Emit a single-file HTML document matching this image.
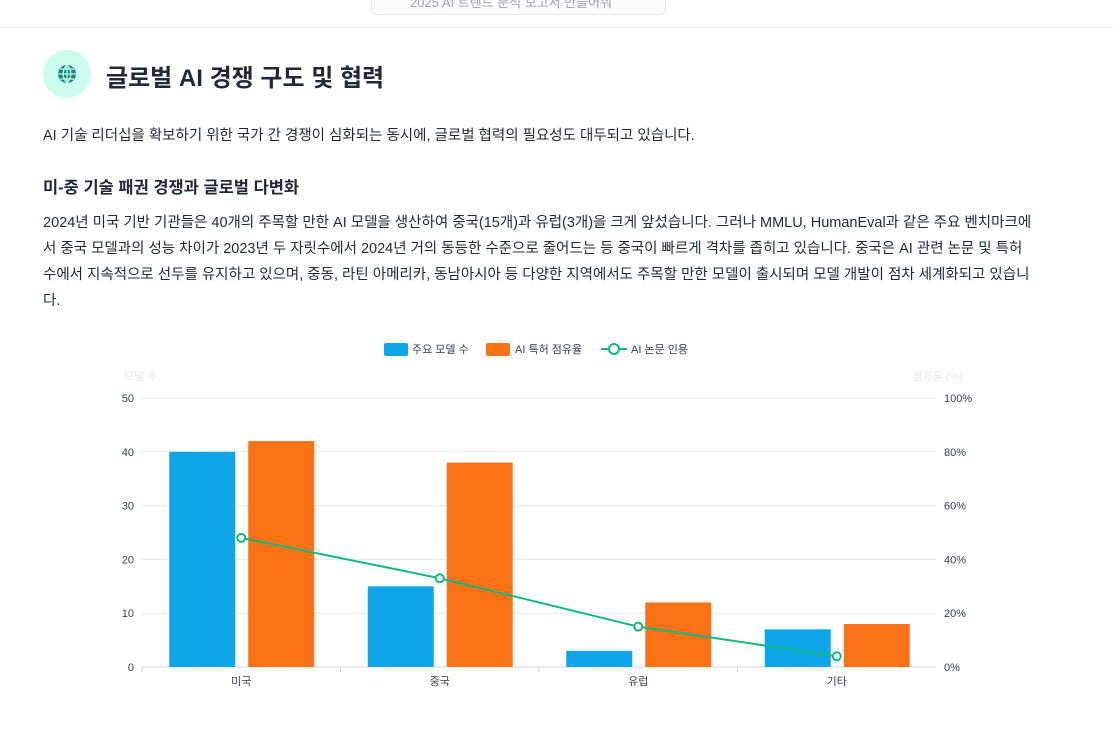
<!DOCTYPE html>
<html><head><meta charset="utf-8">
<style>
body{margin:0;width:1113px;height:733px;overflow:hidden;background:#fff;font-family:"Liberation Sans","Noto Sans CJK KR",sans-serif;color:#1f2937;position:relative}
.abs{position:absolute}
p{margin:0}
</style></head><body>
<div class="abs" style="left:371px;top:-12px;width:295px;height:27px;border:1px solid #e5e7eb;border-radius:6px;background:#fafbfb;font-size:13px;color:#9ca3af;line-height:27px;padding-left:38px;box-sizing:border-box;overflow:hidden">2025 AI 트렌드 분석 보고서 만들어줘</div>
<div class="abs" style="left:0;top:27px;width:1113px;height:1px;background:#e5e7eb"></div>
<div class="abs" style="left:43px;top:50px;width:48px;height:48px;border-radius:50%;background:#ccfbef">
<svg width="48" height="48" viewBox="0 0 48 48"><circle cx="24" cy="24" r="9" fill="#0f8a78"/><path d="M15 24h18M24 15v18M17 19h14M17 29h14M24 15c-5 5-5 13 0 18M24 15c5 5 5 13 0 18" stroke="#ccfbef" stroke-width="1.3" fill="none"/></svg></div>
<div class="abs" style="left:106px;top:58px;font-size:24px;font-weight:bold;color:#1f2937">글로벌 AI 경쟁 구도 및 협력</div>
<p class="abs" style="left:43px;top:124px;font-size:14.5px">AI 기술 리더십을 확보하기 위한 국가 간 경쟁이 심화되는 동시에, 글로벌 협력의 필요성도 대두되고 있습니다.</p>
<div class="abs" style="left:43px;top:174px;font-size:16.5px;font-weight:bold">미-중 기술 패권 경쟁과 글로벌 다변화</div>
<p class="abs" style="left:43px;top:210px;width:990px;font-size:14.5px;line-height:26px">2024년 미국 기반 기관들은 40개의 주목할 만한 AI 모델을 생산하여 중국(15개)과 유럽(3개)을 크게 앞섰습니다. 그러나 MMLU, HumanEval과 같은 주요 벤치마크에서 중국 모델과의 성능 차이가 2023년 두 자릿수에서 2024년 거의 동등한 수준으로 줄어드는 등 중국이 빠르게 격차를 좁히고 있습니다. 중국은 AI 관련 논문 및 특허 수에서 지속적으로 선두를 유지하고 있으며, 중동, 라틴 아메리카, 동남아시아 등 다양한 지역에서도 주목할 만한 모델이 출시되며 모델 개발이 점차 세계화되고 있습니다.</p>
<svg class="abs" style="left:0;top:0" width="1113" height="733" id="chart" font-family="Liberation Sans, Noto Sans CJK KR, sans-serif">
<g font-size="11" fill="#374151">
<rect x="384" y="343" width="24" height="13" rx="2" fill="#0ea5e9"/>
<text x="412" y="353">주요 모델 수</text>
<rect x="486" y="343" width="24" height="13" rx="2" fill="#f97316"/>
<text x="515" y="353">AI 특허 점유율</text>
<line x1="601" y1="349" x2="627" y2="349" stroke="#10b981" stroke-width="2"/>
<circle cx="614" cy="349" r="5" fill="#fff" stroke="#10b981" stroke-width="2"/>
<text x="631" y="353">AI 논문 인용</text>
</g>
<text x="124" y="380" font-size="11" fill="#e5e7eb">모델 수</text>
<text x="963" y="380" font-size="11" fill="#e5e7eb" text-anchor="end">점유율 (%)</text>
<g id="grid"></g><g id="bars"></g><g id="line"></g><g id="axes"></g>
</svg>
<script>
const categories=["미국","중국","유럽","기타"];
const modelCounts=[40,15,3,7];
const patentShare=[84,76,24,16];
const citationShare=[48,33,15,4];
const leftTicks=[0,10,20,30,40,50];
const rightTicks=[0,20,40,60,80,100];
const NS="http://www.w3.org/2000/svg";
const X0=142,X1=936,Y0=667,Y1=398;
const band=(X1-X0)/categories.length;
const yL=v=>Y0-(v/50)*(Y0-Y1);
const yR=v=>Y0-(v/100)*(Y0-Y1);
const xc=i=>X0+band*(i+0.5);
function mk(tag,attrs,parent){const e=document.createElementNS(NS,tag);for(const k in attrs)e.setAttribute(k,attrs[k]);document.getElementById(parent).appendChild(e);return e;}
leftTicks.forEach((t,i)=>{
 const l=mk('line',{x1:X0,x2:X1,y1:yL(t),y2:yL(t),stroke:t===0?'#d1d5db':'#e5e7eb','stroke-width':1},'grid');
 
 
 const a=mk('text',{x:X0-8,y:yL(t)+4,'font-size':11,fill:'#374151','text-anchor':'end'},'axes');a.textContent=t;
 
 
 const b=mk('text',{x:X1+8,y:yR(rightTicks[i])+4,'font-size':11,fill:'#374151'},'axes');b.textContent=rightTicks[i]+'%';
 
 
});
categories.forEach((c,i)=>{
 const tk=mk('line',{x1:X0+band*i,x2:X0+band*i,y1:Y0,y2:Y0+5,stroke:'#d1d5db'},'axes');
 
 
 const t=mk('text',{x:xc(i),y:Y0+18,'font-size':11,fill:'#374151','text-anchor':'middle'},'axes');t.textContent=c;
 
 
 const bw=66;
 const b1=mk('rect',{x:xc(i)-72,y:yL(modelCounts[i]),width:bw,height:Y0-yL(modelCounts[i]),fill:'#0ea5e9'},'bars');
 
 
 const b2=mk('rect',{x:xc(i)+7,y:yR(patentShare[i]),width:bw,height:Y0-yR(patentShare[i]),fill:'#f97316'},'bars');
 
 
});
const pl=mk('polyline',{points:citationShare.map((v,i)=>xc(i)+','+yR(v)).join(' '),fill:'none',stroke:'#10b981','stroke-width':2},'line');


citationShare.forEach((v,i)=>{
 const p=mk('circle',{cx:xc(i),cy:yR(v),r:4,fill:'#fff',stroke:'#10b981','stroke-width':2},'line');
 
 
});
</script>
</body></html>
